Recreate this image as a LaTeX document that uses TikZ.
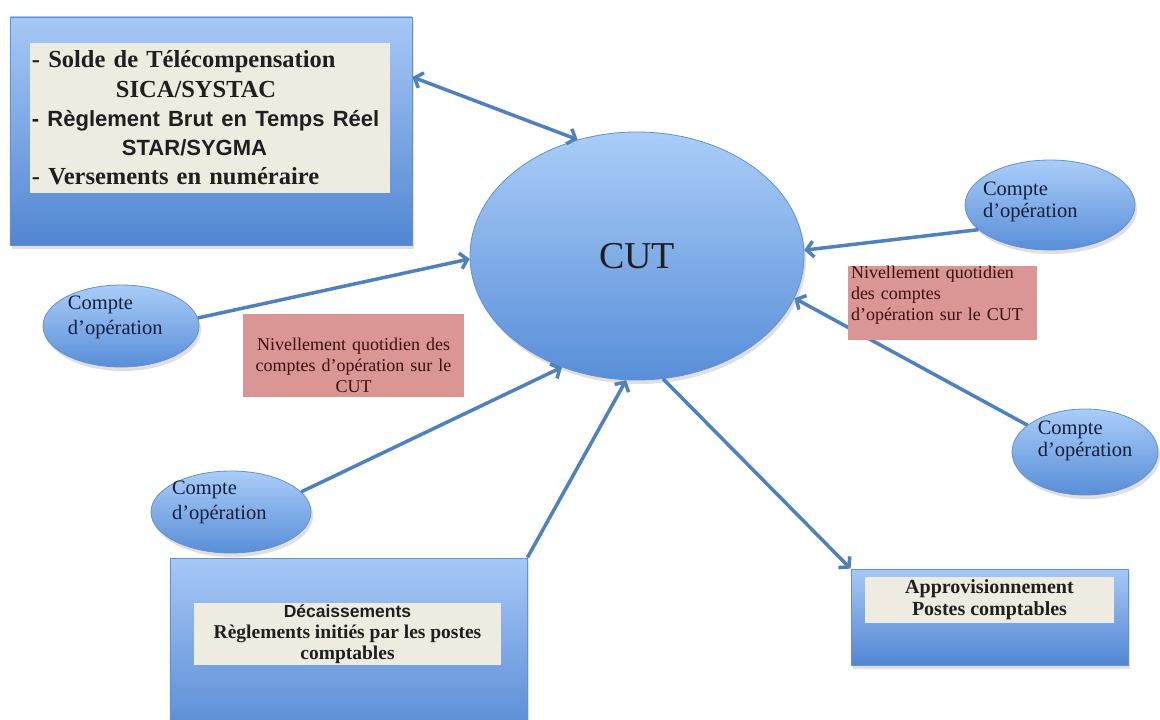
\documentclass[tikz,border=0pt]{standalone}
\usepackage{fontspec}
\setmainfont{Liberation Serif}
\newfontfamily\arialf{Liberation Sans}
\usetikzlibrary{shapes.geometric,arrows.meta,shadows,shadings}
\definecolor{arrowblue}{RGB}{79,129,189}
\definecolor{boxtop}{RGB}{166,200,246}
\definecolor{boxbot}{RGB}{82,134,210}
\definecolor{boxline}{RGB}{100,145,210}
\definecolor{ellTop}{RGB}{170,205,248}
\definecolor{ellBot}{RGB}{88,142,216}
\definecolor{beige}{RGB}{238,236,225}
\definecolor{rosy}{RGB}{217,150,148}
\definecolor{labeltext}{RGB}{60,15,15}
\definecolor{comptetext}{RGB}{20,30,60}
\begin{document}
\begin{tikzpicture}[x=1bp,y=-1bp,
  bluebox/.style={rectangle, draw=boxline, line width=0.8bp, top color=boxtop, bottom color=boxbot,
    drop shadow={opacity=0.25, shadow xshift=2bp, shadow yshift=-4bp}, inner sep=0pt},
  beigebox/.style={rectangle, fill=beige, inner sep=0pt, text=black!88},
  ovalnode/.style={ellipse, draw=boxline, line width=0.8bp, top color=ellTop, bottom color=ellBot,
    drop shadow={opacity=0.25, shadow xshift=2bp, shadow yshift=-4bp}, inner sep=0pt},
  compte/.style={ovalnode, text=comptetext, align=left},
  redlabel/.style={rectangle, fill=rosy, inner sep=0pt, text=labeltext, font=\fontsize{18bp}{21bp}\selectfont},
  link/.style={draw=arrowblue, line width=3.5bp, -{Straight Barb[length=7bp,width=16bp]}},
  barb/.tip={Straight Barb[length=7bp,width=16bp]}
]
\fill[white] (0,0) rectangle (1160,720);
\useasboundingbox (0,0) rectangle (1160,720);

% top-left box
\node[bluebox, minimum width=402bp, minimum height=228bp] (tl) at (211,131) {};
\node[beigebox, text width=356bp, minimum width=360bp, minimum height=150bp, inner xsep=2bp, align=left,
  font=\bfseries\fontsize{24.5bp}{29.3bp}\selectfont] (tlt) at (210,118)
  {- Solde de Télécompensation\\
   \hspace*{84bp}SICA/SYSTAC\\
   {\arialf\fontsize{22bp}{29.3bp}\selectfont - Règlement Brut en Temps Réel}\\
   \hspace*{90bp}{\arialf\fontsize{22bp}{29.3bp}\selectfont STAR/SYGMA}\\
   - Versements en numéraire};

% central ellipse
\node[ovalnode, minimum width=334bp, minimum height=248bp, text=black!88,
  font=\fontsize{38bp}{40bp}\selectfont] (cut) at (637,256) {CUT};

% compte ellipses
\node[compte, minimum width=156bp, minimum height=82bp, text width=106bp, inner xsep=0pt, inner ysep=-2bp,
  font=\fontsize{20.5bp}{25bp}\selectfont] (cl) at (121,326)
  {Compte\\d’opération\rule[-21bp]{0pt}{21bp}};
\node[compte, minimum width=160bp, minimum height=82bp, text width=118bp, inner xsep=-4bp, inner ysep=-3bp,
  font=\fontsize{20.5bp}{25bp}\selectfont] (cbl) at (231,512)
  {Compte\\d’opération\rule[-23bp]{0pt}{23bp}};
\node[compte, minimum width=170bp, minimum height=90bp, text width=134bp, inner xsep=-8bp, inner ysep=0bp,
  font=\fontsize{20.5bp}{22bp}\selectfont] (ctr) at (1050,205)
  {Compte\\d’opération\rule[-11bp]{0pt}{11bp}};
\node[compte, minimum width=146bp, minimum height=86bp, inner xsep=0bp, inner ysep=-2bp,
  font=\fontsize{20.5bp}{22bp}\selectfont] (cbr) at (1085,452)
  {Compte\\d’opération\rule[-27bp]{0pt}{27bp}};

% bottom-left box
\node[bluebox, minimum width=357bp, minimum height=190bp] (bl) at (348.5,653) {};
\node[beigebox, minimum width=307bp, minimum height=62bp, align=center,
  font=\bfseries\fontsize{19.5bp}{21bp}\selectfont] (blt) at (347.5,634)
  {{\arialf\fontsize{17.5bp}{21bp}\selectfont Décaissements}\\
   Règlements initiés par les postes\\ comptables};

% bottom-right box
\node[bluebox, minimum width=277bp, minimum height=96bp] (br) at (989.5,617) {};
\node[beigebox, minimum width=249bp, minimum height=46bp, align=center,
  font=\bfseries\fontsize{20bp}{22bp}\selectfont] (brt) at (989.5,600)
  {Approvisionnement\\ Postes comptables};

% connectors
\draw[link, barb-barb] (tl.15) -- (cut.117);
\draw[link] (cl.6) -- (cut.181);
\draw[link] (cbl.16) -- (cut.236);
\draw[link] (bl.north east) -- (cut.265);
\draw[link] (cut.282) -- (br.north west);
\draw[link] (cbr.155) -- (cut.345);
\draw[link] (ctr.199) -- (cut.2);

% red labels
\node[redlabel, minimum width=221bp, minimum height=83bp, text width=215bp, align=center] (rl) at (353.5,355.5)
  {\rule{0pt}{33bp}Nivellement quotidien des\\ comptes d’opération sur le\\ CUT};
\node[redlabel, minimum width=189bp, minimum height=74bp, text width=183bp, align=left] (rr) at (942.5,303)
  {Nivellement quotidien\\ des comptes\\ d’opération sur le CUT\rule[-19bp]{0pt}{19bp}};
\end{tikzpicture}
\end{document}
